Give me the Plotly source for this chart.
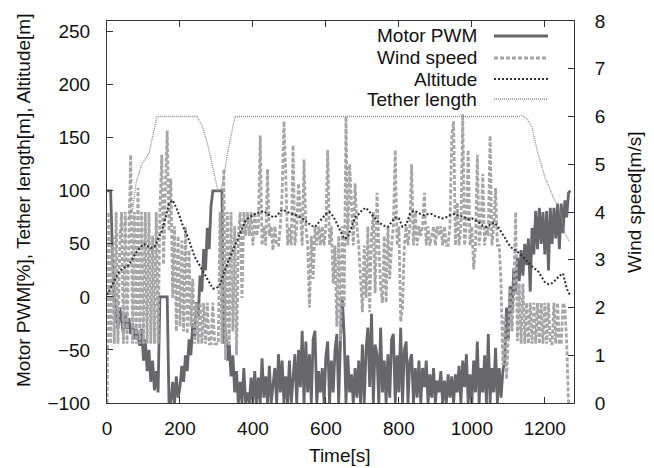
import plotly.graph_objects as go

# ---------------- data ----------------
# sample times (s)
t5 = list(range(0, 1275, 5))
t10 = list(range(0, 1280, 10))

motor_pwm = [
    100, 100, 100, 40, 0, -15, -30, -10, -25, -35, -15, -30, -20, -35, -25, -40, -30, -38, -46, -30,
    -60, -40, -70, -50, -80, -60, -88, -70, -90, 0, 0, 0, 0, 0, -100, -100, -80, -100, -75, -95,
    -85, -65, -80, -55, -70, -40, -55, -25, -40, -5, -20, 20, 5, 45, 25, 65, 45, 85, 100, 100,
    100, 100, 100, 100, -44, -30, -60, -45, -75, -55, -90, -70, -100, -80, -100, -67, -100, -90, -100, -76,
    -100, -70, -100, -76, -100, -58, -95, -75, -100, -65, -100, -80, -67, -100, -54, -90, -60, -100, -75, -100,
    -60, -100, -79, -54, -100, -50, -85, -32, -100, -42, -90, -54, -100, -40, -32, -100, -70, -90, -67, -100,
    -55, -42, -100, -60, -90, -50, -35, -100, -40, -2, -35, -100, -55, -90, -73, -100, -67, -95, -60, -100,
    -45, -100, -50, -29, -85, -16, -100, -45, -54, -100, -29, -90, -60, -100, -54, -95, -40, -35, -100, -55,
    -90, -29, -100, -50, -42, -100, -60, -54, -100, -67, -95, -60, -100, -67, -85, -60, -100, -73, -95, -67,
    -100, -79, -90, -70, -100, -79, -100, -73, -95, -75, -100, -73, -90, -65, -100, -60, -85, -54, -100, -73,
    -100, -60, -90, -42, -100, -67, -90, -55, -100, -35, -100, -67, -90, -48, -100, -67, -95, -70, -60, -10,
    -40, 10, -15, 27, 5, 37, 15, 44, 20, 50, 30, 55, 5, 65, 40, 81, 45, 84, 50, 80,
    40, 81, 25, 84, 50, 84, 55, 88, 45, 88, 60, 91, 75, 98, 100,
]

wind_speed = [
    0.0, 4.0, 1.24, 3.3, 1.24, 4.0, 1.24, 3.3, 4.0, 1.24, 4.0, 1.24, 3.5, 5.2, 1.24, 4.0, 1.24, 4.5, 1.24, 4.0,
    1.24, 4.0, 1.24, 4.0, 1.24, 3.5, 1.24, 4.0, 1.24, 4.0, 5.2, 2.9, 4.5, 5.7, 3.6, 4.7, 2.2, 3.7, 1.5, 3.5,
    1.6, 3.4, 1.5, 3.7, 1.45, 3.2, 1.6, 2.6, 1.24, 2.1, 1.24, 2.1, 1.24, 2.1, 1.24, 2.1, 1.24, 1.24, 2.1, 1.24,
    1.24, 1.24, 4.0, 1.24, 4.9, 0.9, 4.0, 1.24, 4.0, 1.5, 3.7, 1.0, 3.5, 4.0, 2.2, 4.0, 3.5, 4.0, 3.5, 4.0,
    3.3, 4.0, 3.5, 3.7, 5.6, 3.3, 3.7, 3.3, 4.9, 3.5, 3.7, 3.2, 3.7, 3.3, 3.3, 3.7, 4.4, 5.9, 4.8, 3.3,
    3.7, 3.3, 5.4, 3.3, 3.7, 4.6, 4.0, 3.3, 5.1, 3.7, 3.3, 2.0, 3.5, 2.6, 3.7, 3.3, 3.7, 3.3, 3.7, 3.3,
    3.7, 5.3, 3.3, 3.7, 2.5, 3.3, 1.6, 3.5, 1.3, 3.7, 2.0, 6.0, 3.3, 5.0, 4.2, 3.3, 4.6, 3.7, 3.3, 2.6,
    1.9, 3.3, 2.2, 3.7, 1.9, 3.5, 4.0, 2.3, 4.4, 3.3, 2.4, 2.1, 3.5, 2.1, 3.7, 2.6, 3.3, 3.7, 5.3, 3.3,
    3.7, 1.7, 2.0, 3.3, 3.7, 3.3, 3.7, 5.0, 3.3, 4.0, 3.3, 3.7, 3.5, 3.7, 4.4, 3.3, 3.7, 3.3, 3.5, 3.7,
    3.3, 3.7, 3.5, 3.7, 3.3, 3.7, 3.3, 3.3, 3.7, 5.6, 5.9, 3.3, 4.2, 3.3, 3.7, 6.05, 3.3, 3.7, 5.3, 3.3,
    3.7, 2.8, 3.3, 5.2, 3.3, 3.7, 4.8, 3.3, 3.7, 3.5, 5.6, 3.3, 3.7, 4.5, 3.3, 3.3, 2.5, 0.8, 1.8, 0.5,
    1.4, 2.4, 1.5, 2.3, 4.0, 1.3, 2.5, 1.24, 2.5, 1.24, 2.1, 1.24, 2.1, 1.24, 2.1, 1.24, 2.1, 1.24, 2.1, 1.24,
    2.1, 1.24, 2.1, 1.24, 1.24, 2.1, 1.24, 2.1, 1.24, 1.24, 2.1, 2.0, 1.24, 0.0, 0.0,
]

altitude = [
    2, 8, 15, 22, 26, 28, 30, 36, 42, 46,
    50, 48, 46, 47, 55, 62, 74, 88, 91, 84,
    75, 65, 58, 48, 38, 32, 26, 20, 14, 8,
    8, 12, 22, 32, 40, 48, 56, 64, 72, 75,
    77, 79, 80, 81, 78, 76, 75, 79, 82, 81,
    79, 78, 77, 75, 73, 70, 67, 66, 70, 75,
    78, 80, 76, 69, 62, 55, 56, 66, 75, 78,
    82, 84, 80, 75, 72, 69, 67, 66, 70, 75,
    74, 66, 68, 78, 81, 80, 78, 77, 78, 78,
    76, 75, 74, 75, 77, 78, 77, 76, 75, 73,
    74, 72, 70, 67, 66, 68, 70, 67, 62, 56,
    50, 46, 44, 41, 38, 34, 30, 27, 25, 20,
    14, 12, 13, 16, 20, 22, 8, 1,
]

tether_time = [0, 15, 30, 50, 70, 80, 95, 115, 137, 247, 260, 275, 290, 304, 312, 320, 330, 340, 351,
               1127, 1137, 1151, 1165, 1179, 1200, 1223, 1242, 1255, 1268]
tether_length = [50, 54, 58, 70, 82, 108, 125, 135, 170, 170, 162, 145, 122, 100, 101, 112, 135, 152, 170,
                 170, 171, 168, 160, 138, 113, 94, 81, 60, 52]

left_ticks = [-100, -50, 0, 50, 100, 150, 200, 250]
right_ticks = [0, 1, 2, 3, 4, 5, 6, 7, 8]
x_ticks = [0, 200, 400, 600, 800, 1000, 1200]

legend_names = ["Motor PWM", "Wind speed", "Altitude", "Tether length"]

# ---------------- styles ----------------
FONT = "Liberation Sans, Arial, Helvetica, sans-serif"
FS = 19
C_PWM = "#67676b"
C_WIND = "#a6a6a8"
C_ALT = "#2e2e2e"
C_TETHER = "#8c8c8c"
AX = "#333333"

styles = [
    dict(color=C_PWM, width=2.8, dash="solid"),
    dict(color=C_WIND, width=2.8, dash="4px,2px"),
    dict(color=C_ALT, width=2.0, dash="2px,2px"),
    dict(color=C_TETHER, width=1.3, dash="1px,1px"),
]

fig = go.Figure()
fig.add_trace(go.Scatter(x=t5, y=motor_pwm, mode="lines", line=styles[0],
                         yaxis="y", showlegend=False, name=legend_names[0]))
fig.add_trace(go.Scatter(x=t5, y=wind_speed, mode="lines", line=styles[1],
                         yaxis="y2", showlegend=False, name=legend_names[1]))
fig.add_trace(go.Scatter(x=t10, y=altitude, mode="lines", line=styles[2],
                         yaxis="y3", showlegend=False, name=legend_names[2]))
fig.add_trace(go.Scatter(x=tether_time, y=tether_length, mode="lines", line=styles[3],
                         yaxis="y3", showlegend=False, name=legend_names[3]))

W, H = 654, 468
L, R, T, B = 107, 80, 21, 65
pw, ph = W - L - R, H - T - B


def px_x(p):
    return (p - L) / pw


def px_y(p):
    return (H - B - p) / ph


axis_common = dict(showgrid=False, zeroline=False, showline=True, linecolor=AX, linewidth=1,
                   ticks="inside", ticklen=6, tickcolor=AX, automargin=False,
                   tickfont=dict(family=FONT, size=FS, color="#111"))

fig.update_layout(
    width=W, height=H, autosize=False,
    margin=dict(l=L, r=R, t=T, b=B, pad=0),
    paper_bgcolor="white", plot_bgcolor="white",
    font=dict(family=FONT, size=FS, color="#111"),
    xaxis=dict(range=[0, 1280], tickvals=x_ticks, mirror="ticks", ticklabelstandoff=8, **axis_common),
    yaxis=dict(range=[-100, 260], tickvals=left_ticks, ticklabelstandoff=12, **axis_common),
    yaxis2=dict(range=[0, 8], tickvals=right_ticks, overlaying="y", side="right",
                ticklabelstandoff=16, **axis_common),
    yaxis3=dict(range=[-100, 260], overlaying="y", visible=False),
)

ann = [
    dict(text="Time[s]", x=px_x(340), y=px_y(455)),
    dict(text="Motor PWM[%], Tether length[m], Altitude[m]", x=px_x(23), y=px_y(201), textangle=-90),
    dict(text="Wind speed[m/s]", x=px_x(634), y=px_y(202), textangle=-90),
]
for a in ann:
    fig.add_annotation(xref="paper", yref="paper", showarrow=False, xanchor="center", yanchor="middle",
                       font=dict(family=FONT, size=FS, color="#111"), **a)

leg_y = [36, 58, 79, 99]
for name, st, yy in zip(legend_names, styles, leg_y):
    fig.add_annotation(xref="paper", yref="paper", showarrow=False, text=name,
                       x=px_x(479), y=px_y(yy), xanchor="right", yanchor="middle",
                       font=dict(family=FONT, size=FS, color="#111"))
    fig.add_shape(type="line", xref="paper", yref="paper",
                  x0=px_x(494), x1=px_x(548), y0=px_y(yy), y1=px_y(yy), line=st)

fig.write_html("out.html", config={"displayModeBar": False},
               post_script="document.body.style.margin='0';document.body.style.overflow='hidden';")
